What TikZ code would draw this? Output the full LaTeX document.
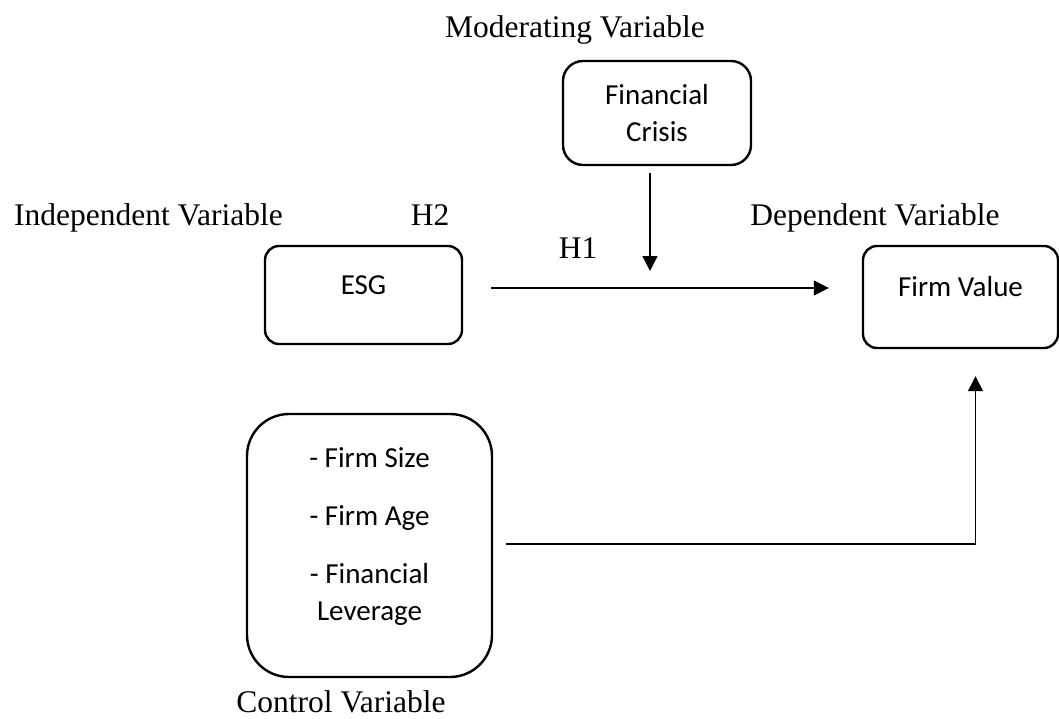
\documentclass[tikz,border=0pt]{standalone}
\usepackage{fontspec}
\setmainfont{Liberation Serif}
\newfontfamily\boxfont{Carlito}
\usetikzlibrary{arrows.meta,positioning}

\begin{document}
\begin{tikzpicture}[
  x=1pt, y=-1pt,
  varbox/.style={draw, rectangle, line width=2.4pt, font=\boxfont\fontsize{29}{37}\selectfont, align=center},
  lbl/.style={anchor=base, font=\fontsize{31.5}{36}\selectfont, inner sep=0pt},
  arr/.style={-{Triangle[length=15pt,width=15pt]}, line width=1.3pt}
]
\useasboundingbox (0,0) rectangle (1059,718);

% boxes
\node[varbox, rounded corners=20pt, minimum width=188pt, minimum height=104pt] (crisis) at (657,113) {Financial\\Crisis};
\node[varbox, rounded corners=14pt, minimum width=197pt, minimum height=98pt, text depth=20pt] (esg) at (363.5,295) {ESG};
\node[varbox, rounded corners=14pt, minimum width=195pt, minimum height=102pt, text depth=22pt] (fv) at (960.5,297) {Firm Value};
\node[varbox, rounded corners=42pt, minimum width=245pt, minimum height=263pt, text depth=22pt] (ctrl) at (369.5,545.5) {- Firm Size\\[21pt]- Firm Age\\[21pt]- Financial\\Leverage};

% labels
\node[lbl] (modlbl) at (575,37) {Moderating Variable};
\node[lbl] (indlbl) at (148.5,225) {Independent Variable};
\node[lbl] (h2) at (430,225) {H2};
\node[lbl] (deplbl) at (875,225) {Dependent Variable};
\node[lbl] (h1) at (578,258) {H1};
\node[lbl] (ctrllbl) at (341,712) {Control Variable};

% connectors
\coordinate (modpt) at (650,271);
\draw[arr, shorten <=28pt, shorten >=33pt] ([yshift=7pt]esg.east) -- ([yshift=7pt]esg.east -| fv.west);
\draw[arr] (crisis.south -| modpt) ++(0,7) -- (modpt);
\draw[arr, shorten <=13pt, shorten >=27pt] ([yshift=1.5pt]ctrl.east) -| ([xshift=15pt]fv.south);
\end{tikzpicture}
\end{document}
